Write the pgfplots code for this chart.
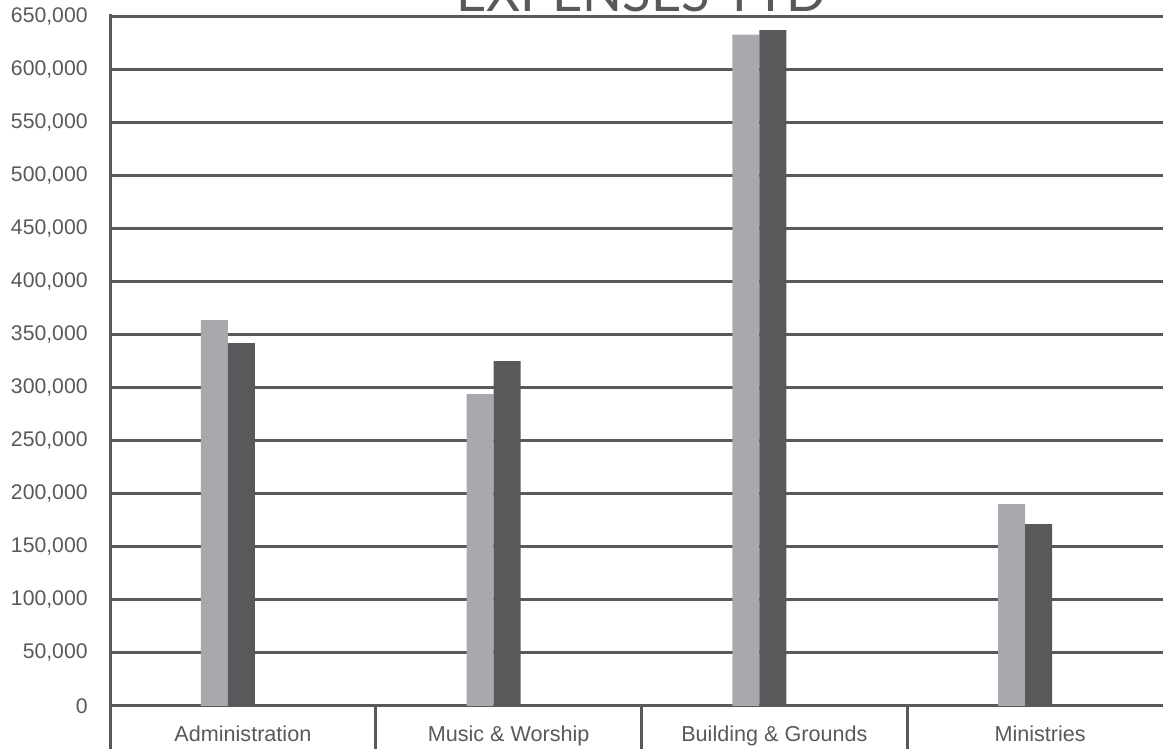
\documentclass[border=0pt]{standalone}
\usepackage{fontspec}
\setmainfont{Liberation Sans}
\newfontfamily\titlefont{Lato}
\usepackage{pgfplots}
\pgfplotsset{compat=1.18}
\usetikzlibrary{calc}
\definecolor{lightbar}{HTML}{A7A9AC}
\definecolor{darkbar}{HTML}{58595B}
\definecolor{gridc}{HTML}{58595B}
\definecolor{txt}{HTML}{58595B}
\begin{document}
\begin{tikzpicture}
\begin{axis}[
  scale only axis,
  width=531.5pt, height=345pt,
  xmin=-0.5, xmax=3.5,
  ymin=0, ymax=650000,
  ytick={0,50000,100000,150000,200000,250000,300000,350000,400000,450000,500000,550000,600000,650000},
  yticklabels={0,{50,000},{100,000},{150,000},{200,000},{250,000},{300,000},{350,000},{400,000},{450,000},{500,000},{550,000},{600,000},{650,000}},
  scaled y ticks=false,
  yticklabel style={anchor=east, inner sep=0pt, xshift=-11pt, font=\fontsize{10.6}{12}\selectfont, text=txt},
  xtick={0,1,2,3},
  xticklabels={Administration, Music \& Worship, Building \& Grounds, Ministries},
  xticklabel style={anchor=base, inner sep=0pt, yshift=-18pt, font=\fontsize{10.8}{12}\selectfont, text=txt},
  major tick length=0pt,
  axis line style={draw=none},
  ymajorgrids,
  grid style={line width=1.5pt, color=gridc},
  clip=false,
]
\addplot[ybar, bar width=13.5pt, bar shift=-14.25pt, fill=lightbar, draw=none]
  coordinates {(0,363500) (1,293800) (2,632400) (3,190100)};
\addplot[ybar, bar width=13.5pt, bar shift=-0.75pt, fill=darkbar, draw=none]
  coordinates {(0,341800) (1,324900) (2,636800) (3,171300)};
\coordinate (bl) at (rel axis cs:0,0);
\coordinate (tl) at (rel axis cs:0,1);
\coordinate (tm) at (rel axis cs:0.5,1);
\coordinate (s1) at (axis cs:0.5,0);
\coordinate (s2) at (axis cs:1.5,0);
\coordinate (s3) at (axis cs:2.5,0);
\end{axis}
\node[anchor=base, inner sep=0pt, text=txt, font=\titlefont\fontsize{26.2}{28}\selectfont] at ($(tm)+(0,2pt)$) {EXPENSES YTD};
\draw[gridc, line width=1.5pt] ($(tl)+(0,0.75pt)$) -- ($(bl)+(0,-25pt)$);
\foreach \s in {s1,s2,s3} {
  \draw[gridc, line width=1.5pt] (\s) -- ($(\s)+(0,-25pt)$);
}
\pgfresetboundingbox
\path ($(bl)+(-55pt,-21.5pt)$) rectangle ($(tl)+(526.5pt,8pt)$);
\end{tikzpicture}
\end{document}
